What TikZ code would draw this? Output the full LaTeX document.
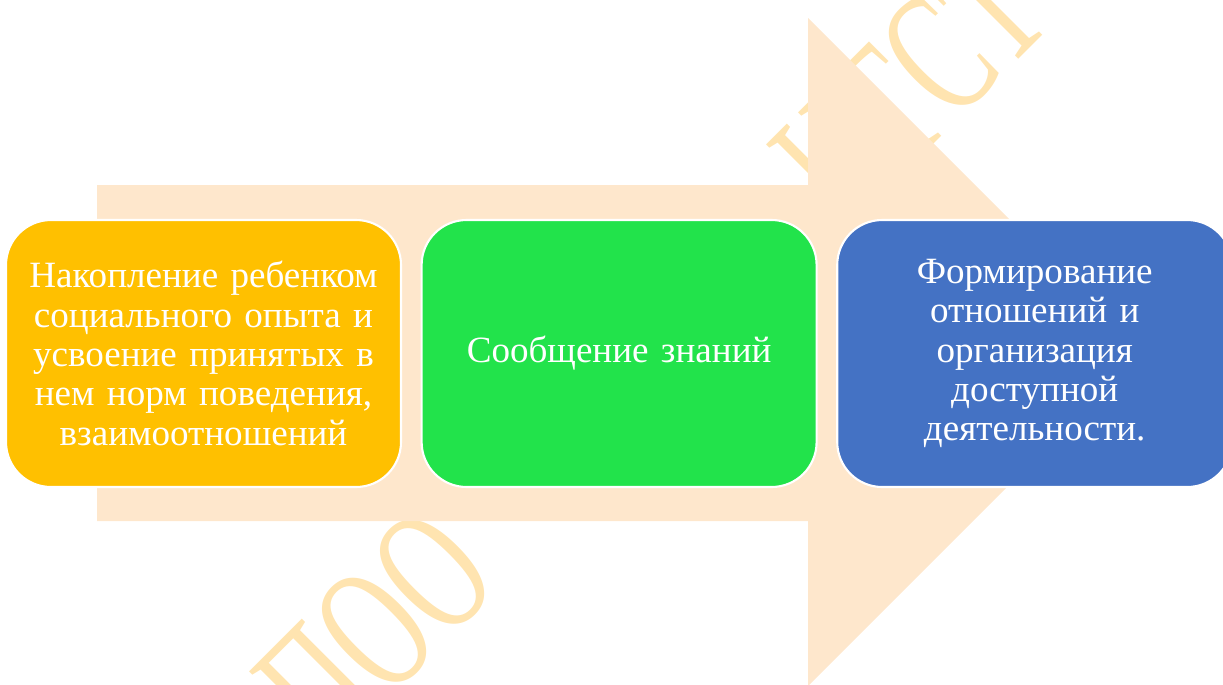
\documentclass[tikz,border=0pt]{standalone}
\usepackage{fontspec}
\setmainfont{Liberation Serif}
\usepackage{graphicx}
\definecolor{opytcol}{HTML}{FFC000}
\definecolor{znancol}{HTML}{22E34B}
\definecolor{otncol}{HTML}{4472C4}
\definecolor{arrowfill}{HTML}{FEE7CC}
\definecolor{wmcol}{HTML}{FFE4B0}
\usetikzlibrary{positioning}

\begin{document}
\begin{tikzpicture}[
  node distance=0.37cm,
  box/.style={rectangle, draw=white, line width=1.2pt,
              rounded corners=0.9cm,
              minimum width=7.9cm, minimum height=5.34cm,
              text width=7.6cm, align=center, text=white,
              font=\fontsize{21.1}{22.4}\selectfont},
  wmark/.style={text=wmcol, rotate=45, inner sep=0pt,
                font=\fontsize{64}{64}\selectfont}
]
  \useasboundingbox (0,0) rectangle (24.46,-13.68);

  \node[wmark] (wmlow) at (7.5,-12.6) {\scalebox{1}[1.6]{ПОО}};
  \node[wmark] (wmhigh) at (18.2,-1.7) {\scalebox{1}[1.6]{НТСТ}};

  \fill[arrowfill] (1.94,-3.7) -- (16.16,-3.7) -- (16.16,-0.36)
    -- (22.84,-7.04) -- (16.16,-13.72) -- (16.16,-10.42)
    -- (1.94,-10.42) -- cycle;

  \node[box, fill=opytcol] (opyt) at (4.07,-7.07)
    {Накопление ребенком\\социального опыта и\\усвоение принятых в\\нем норм поведения,\\взаимоотношений};
  \node[box, fill=znancol, right=of opyt] (znaniya)
    {Сообщение знаний};
  \node[box, fill=otncol, right=of znaniya] (otnosh)
    {Формирование\\отношений и\\организация\\доступной\\деятельности.};
\end{tikzpicture}
\end{document}
